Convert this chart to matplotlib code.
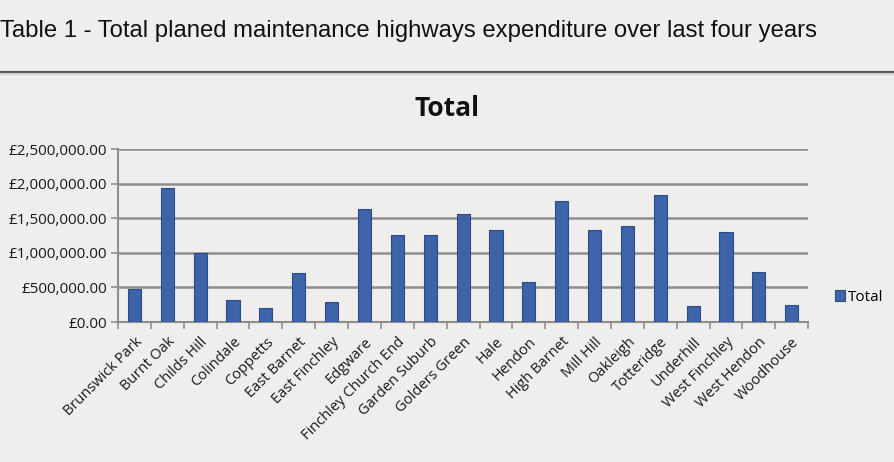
import numpy as np
import matplotlib
matplotlib.use("Agg")
import matplotlib.pyplot as plt
from matplotlib.lines import Line2D
from matplotlib.ticker import FuncFormatter, FixedLocator

wards = [
	"Brunswick Park", "Burnt Oak", "Childs Hill", "Colindale", "Coppetts",
	"East Barnet", "East Finchley", "Edgware", "Finchley Church End", "Garden Suburb",
	"Golders Green", "Hale", "Hendon", "High Barnet", "Mill Hill",
	"Oakleigh", "Totteridge", "Underhill", "West Finchley", "West Hendon", "Woodhouse",
]
totals = [
	474000, 1946000, 995000, 319000, 207000,
	715000, 285000, 1633000, 1260000, 1260000,
	1570000, 1333000, 575000, 1754000, 1333000,
	1387000, 1836000, 232000, 1300000, 725000, 246000,
]
yticks = [0, 500000, 1000000, 1500000, 2000000, 2500000]

BG = "#efeeec"
BAR = "#3d63a8"
GRID = "#8e8e8e"

fig = plt.figure(figsize=(8.94, 4.62), dpi=100, facecolor=BG)

# header text and rule above the chart
fig.text(0.0, 0.933, "Table 1 - Total planed maintenance highways expenditure over last four years",
	fontsize=17.2, family="Liberation Sans", color="#111111", va="center", ha="left")
fig.add_artist(Line2D([0, 1], [0.845, 0.845], transform=fig.transFigure, color="#555555", lw=1.6))
fig.add_artist(Line2D([0, 1], [0.840, 0.840], transform=fig.transFigure, color="#cfcfcd", lw=1.5))

ax = fig.add_axes([0.132, 0.303, 0.772, 0.374])
ax.set_facecolor(BG)
x = np.arange(len(wards))
ax.bar(x, totals, width=0.4, color=BAR, edgecolor="#2c4c86", linewidth=0.8, label="Total", zorder=3)

ax.set_xlim(-0.5, len(wards) - 0.5)
ax.set_ylim(0, 2500000)
ax.set_yticks(yticks)
ax.yaxis.set_major_formatter(FuncFormatter(lambda v, p: f"£{v:,.2f}"))
ax.grid(axis="y", color=GRID, lw=1.8, zorder=0)

ax.set_xticks(x)
ax.set_xticklabels(wards, rotation=45, ha="right", rotation_mode="anchor",
	fontsize=10.5, family="Open Sans", color="#1a1a1a")
ax.tick_params(axis="x", length=0, pad=9)
ax.xaxis.set_minor_locator(FixedLocator(np.arange(-0.5, len(wards), 1.0)))
ax.tick_params(axis="x", which="minor", length=5, color=GRID, width=1.2, direction="out")
ax.tick_params(axis="y", length=5, color=GRID, width=1.2, pad=3)
for lab in ax.get_yticklabels():
	lab.set_fontsize(11)
	lab.set_family("Open Sans")
	lab.set_color("#1a1a1a")

for side in ["top", "right"]:
	ax.spines[side].set_visible(False)
for side in ["left", "bottom"]:
	ax.spines[side].set_color(GRID)
	ax.spines[side].set_linewidth(1.5)

fig.text(0.5, 0.766, "Total", fontsize=19, fontweight="bold", family="Open Sans",
	ha="center", va="center", color="#111111")

leg = fig.legend(loc="center left", bbox_to_anchor=(0.925, 0.357), frameon=False,
	handlelength=0.7, handleheight=0.7, handletextpad=0.2, borderpad=0,
	prop={"family": "Open Sans", "size": 11})

fig.savefig("out.png", dpi=100, facecolor=BG)
